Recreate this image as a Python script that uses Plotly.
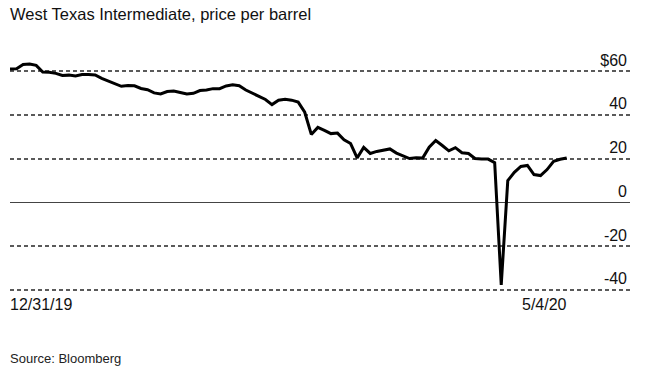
import plotly.graph_objects as go

dates = [
    "2019-12-31",
    "2020-01-02", "2020-01-03", "2020-01-06", "2020-01-07", "2020-01-08", "2020-01-09", "2020-01-10",
    "2020-01-13", "2020-01-14", "2020-01-15", "2020-01-16", "2020-01-17", "2020-01-21", "2020-01-22",
    "2020-01-23", "2020-01-24", "2020-01-27", "2020-01-28", "2020-01-29", "2020-01-30", "2020-01-31",
    "2020-02-03", "2020-02-04", "2020-02-05", "2020-02-06", "2020-02-07", "2020-02-10", "2020-02-11",
    "2020-02-12", "2020-02-13", "2020-02-14", "2020-02-18", "2020-02-19", "2020-02-20", "2020-02-21",
    "2020-02-24", "2020-02-25", "2020-02-26", "2020-02-27", "2020-02-28",
    "2020-03-02", "2020-03-03", "2020-03-04", "2020-03-05", "2020-03-06", "2020-03-09", "2020-03-10",
    "2020-03-11", "2020-03-12", "2020-03-13", "2020-03-16", "2020-03-17", "2020-03-18", "2020-03-19",
    "2020-03-20", "2020-03-23", "2020-03-24", "2020-03-25", "2020-03-26", "2020-03-27", "2020-03-30",
    "2020-03-31",
    "2020-04-01", "2020-04-02", "2020-04-03", "2020-04-06", "2020-04-07", "2020-04-08", "2020-04-09",
    "2020-04-13", "2020-04-14", "2020-04-15", "2020-04-16", "2020-04-17", "2020-04-20", "2020-04-21",
    "2020-04-22", "2020-04-23", "2020-04-24", "2020-04-27", "2020-04-28", "2020-04-29", "2020-04-30",
    "2020-05-01", "2020-05-04",
]

prices = [
    61.06,
    61.18, 63.05, 63.27, 62.70, 59.61, 59.56, 59.04,
    58.08, 58.23, 57.81, 58.52, 58.54, 58.34, 56.74,
    55.59, 54.19, 53.14, 53.48, 53.33, 52.14, 51.56,
    50.11, 49.61, 50.75, 50.95, 50.32, 49.57, 49.94,
    51.17, 51.42, 52.05, 52.05, 53.29, 53.78, 53.38,
    51.43, 49.90, 48.73, 47.09, 44.76,
    46.75, 47.18, 46.78, 45.90, 41.28, 31.13, 34.36,
    32.98, 31.50, 31.73, 28.70, 26.95, 20.37, 25.22,
    22.43, 23.36, 24.01, 24.49, 22.60, 21.51, 20.09,
    20.48,
    20.31, 25.32, 28.34, 26.08, 23.63, 25.09, 22.76,
    22.41, 20.11, 19.87, 19.87, 18.27, -37.63, 10.01,
    13.78, 16.50, 16.94, 12.78, 12.34, 15.06, 18.84,
    19.78, 20.39,
]

y_tickvals = [-40, -20, 0, 20, 40, 60]
y_ticktext = ["-40", "-20", "0", "20", "40", "$60"]
x_labels = ["12/31/19", "5/4/20"]

title_text = "West Texas Intermediate, price per barrel"
source_text = "Source: Bloomberg"

FONT = "Liberation Sans, Arial, Helvetica, sans-serif"

idx = list(range(len(prices)))

fig = go.Figure()
fig.add_trace(go.Scatter(
    x=idx, y=prices, customdata=dates, mode="lines",
    line=dict(color="#000000", width=3),
    hovertemplate="%{customdata}: %{y}<extra></extra>",
    showlegend=False,
))

# plot area: top at 45px, bottom at 301px (y range -45..72)
fig.update_layout(
    width=650, height=371,
    margin=dict(l=10, r=20, t=45, b=70),
    paper_bgcolor="white", plot_bgcolor="white",
    font=dict(family=FONT, color="#111111", size=15),
    title=dict(
        text=title_text, x=10 / 650, xanchor="left", xref="container",
        y=1 - 14 / 371, yanchor="middle", yref="container",
        font=dict(family=FONT, size=16.5, color="#111111"),
    ),
    xaxis=dict(
        range=[0, 94.66], showgrid=False, zeroline=False, showticklabels=False,
        showline=False, ticks="",
    ),
    yaxis=dict(
        range=[-45, 72], side="right", tickvals=y_tickvals, ticktext=y_ticktext,
        ticklabelposition="inside top", ticks="",
        showgrid=True, gridcolor="#5a5a5a", gridwidth=1.5, griddash="4px,3px",
        zeroline=True, zerolinecolor="#444444", zerolinewidth=1.3,
        showline=False, tickfont=dict(family=FONT, size=16, color="#111111"),
    ),
)

fig.add_annotation(
    x=idx[0], y=0, xref="x", yref="paper", text=x_labels[0], showarrow=False,
    xanchor="left", yanchor="middle", yshift=-3, xshift=-2,
    font=dict(family=FONT, size=16, color="#111111"),
)
fig.add_annotation(
    x=idx[-1], y=0, xref="x", yref="paper", text=x_labels[1], showarrow=False,
    xanchor="right", yanchor="middle", yshift=-3, xshift=2,
    font=dict(family=FONT, size=16, color="#111111"),
)
fig.add_annotation(
    x=0, y=-57.5 / 256, xref="paper", yref="paper", text=source_text, showarrow=False,
    xanchor="left", yanchor="middle", xshift=-2,
    font=dict(family=FONT, size=13, color="#222222"),
)

fig.write_html(
    "out.html",
    config={"displayModeBar": False},
    post_script="document.body.style.margin='0';",
)
